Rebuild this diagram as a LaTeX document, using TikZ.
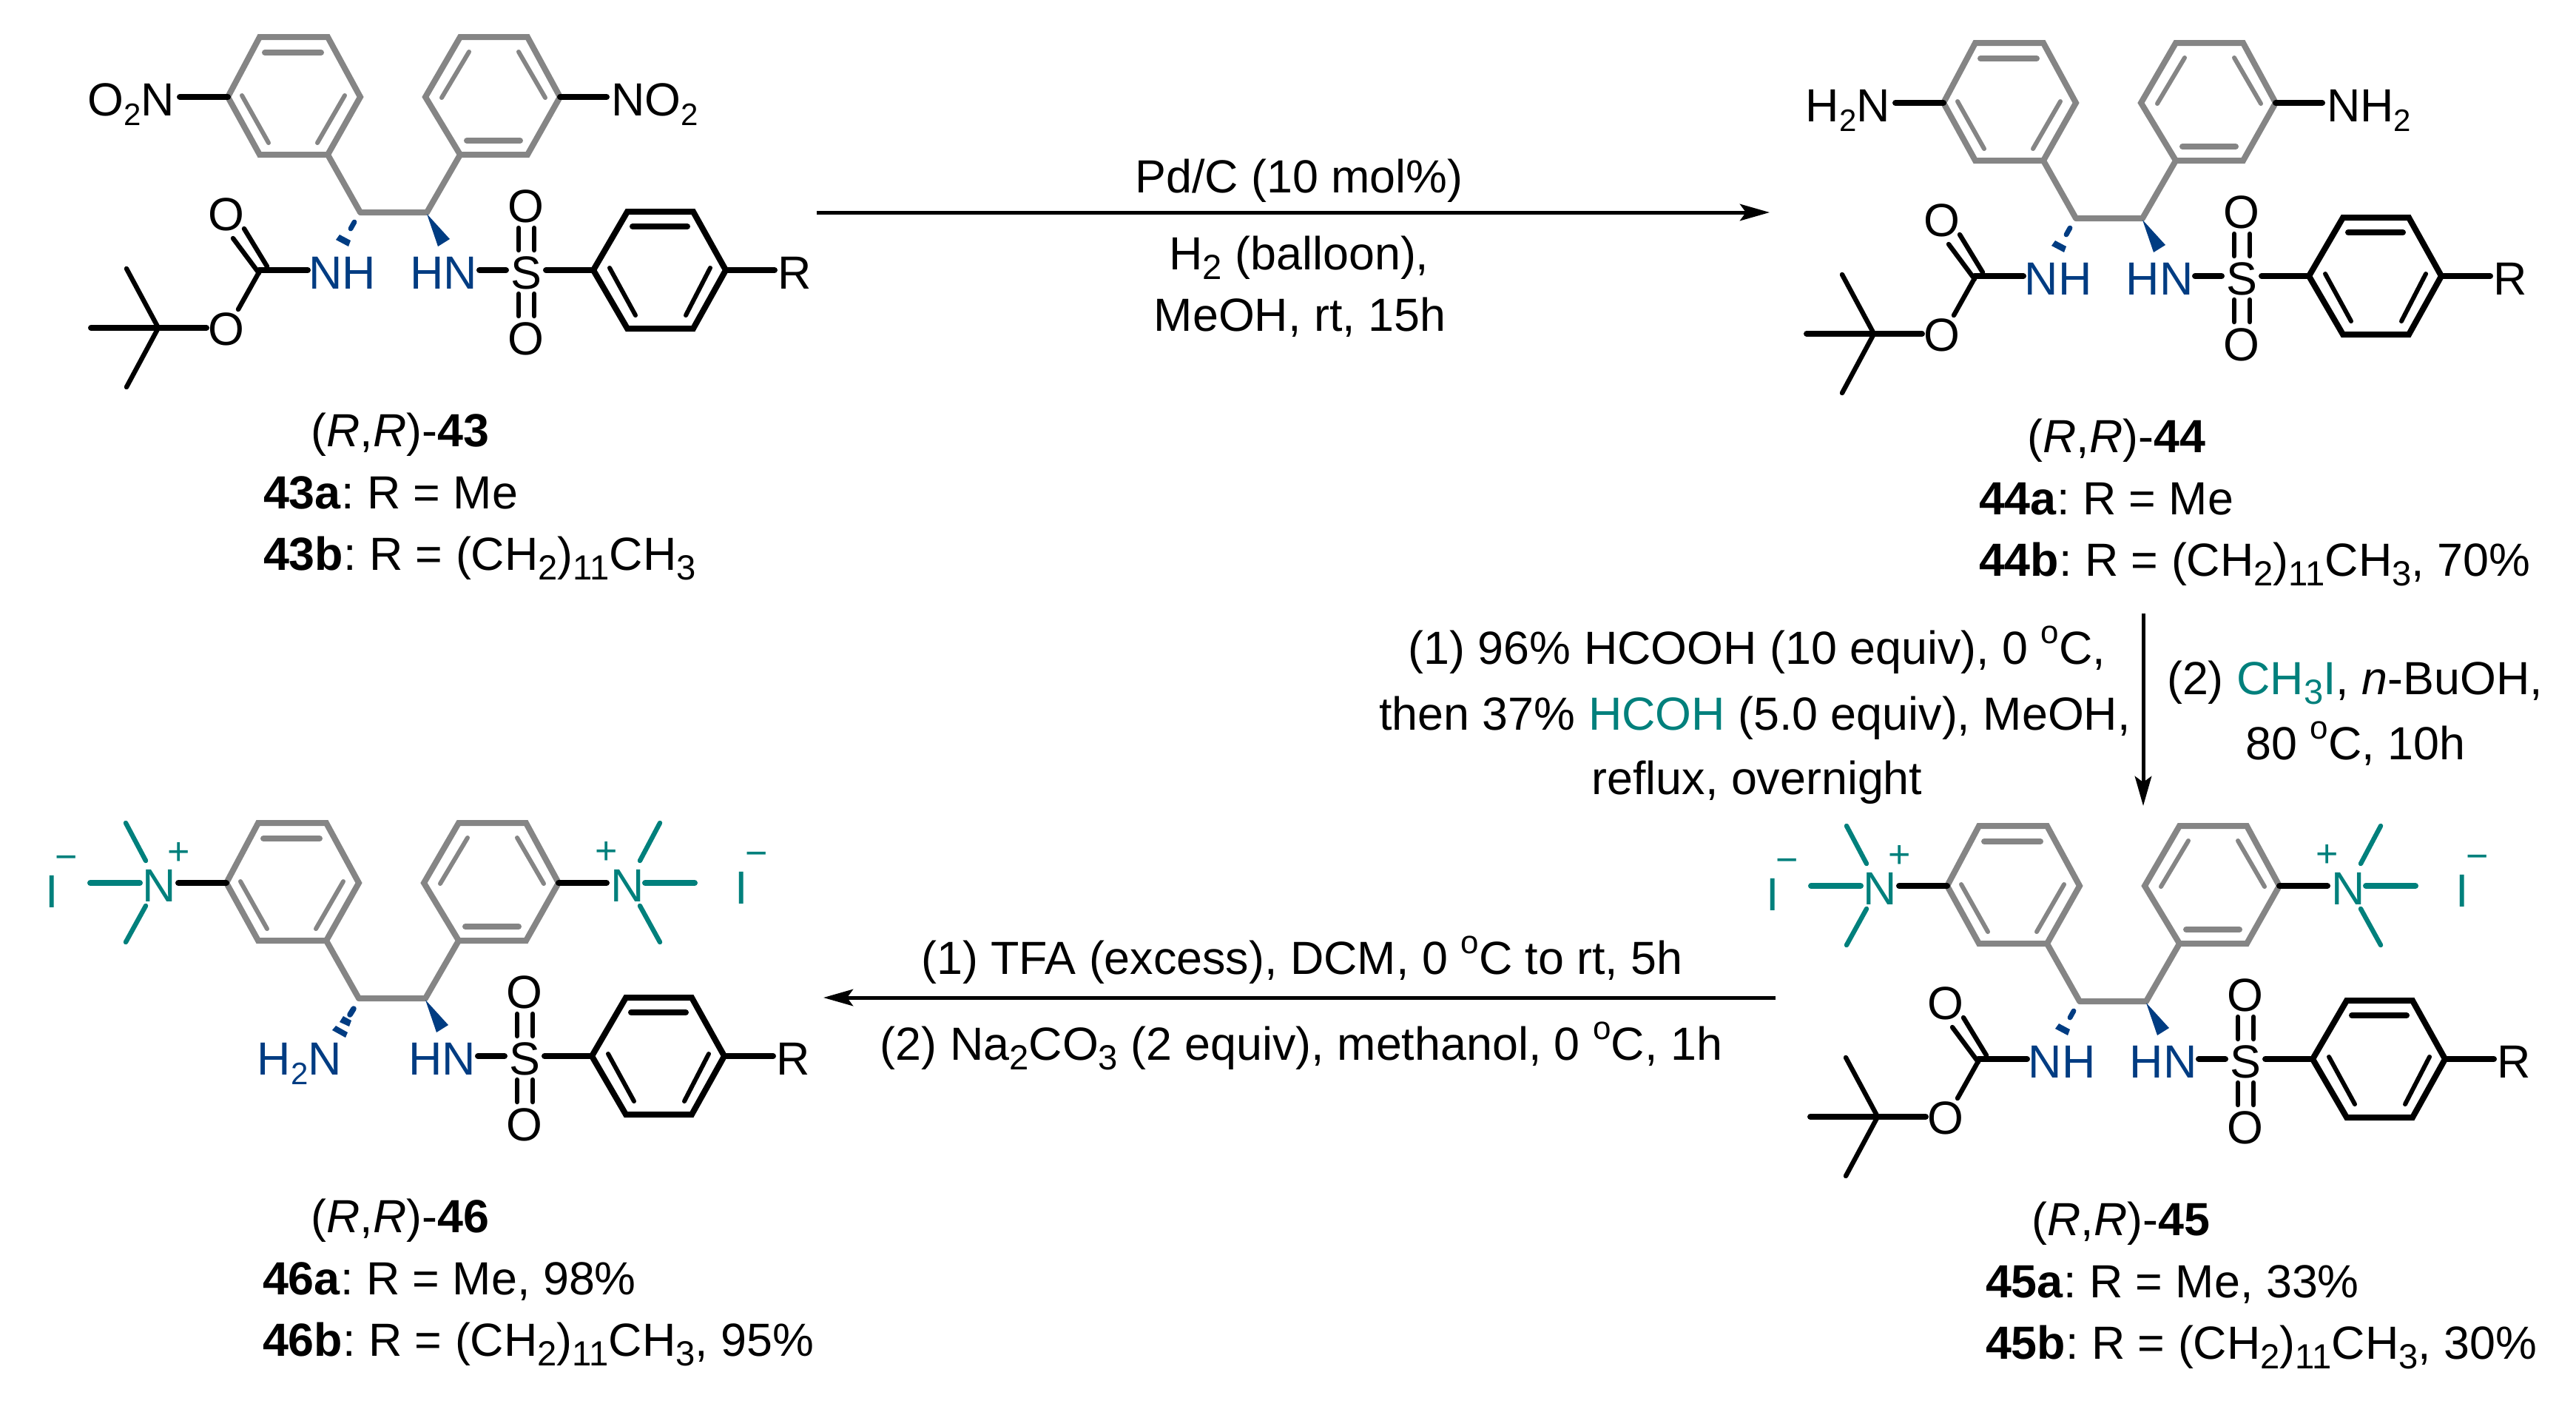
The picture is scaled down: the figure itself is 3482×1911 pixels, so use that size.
\documentclass[tikz,border=0pt]{standalone}
\usepackage{fontspec}
\setmainfont{Liberation Sans}
\usetikzlibrary{arrows.meta}
\definecolor{ringgray}{HTML}{858585}
\definecolor{chemblue}{HTML}{003C82}
\definecolor{chemteal}{HTML}{00807C}
\frenchspacing
\newcommand{\sbs}[1]{\raisebox{-3.25pt}{\fontsize{11.8pt}{13pt}\selectfont #1}}
\newcommand{\sbm}[1]{\raisebox{-3.25pt}{\fontsize{10.5pt}{13pt}\selectfont #1}}
\newcommand{\spo}{\raisebox{7pt}{\fontsize{11pt}{13pt}\selectfont o}}
\tikzset{
  lab/.style={inner sep=0pt,outer sep=0pt,anchor=base,font=\fontsize{15.7pt}{18pt}\selectfont},
  chg/.style={inner sep=0pt,outer sep=0pt,anchor=center,text=chemteal,font=\fontsize{13pt}{15pt}\selectfont},
  gbond/.style={draw=ringgray,line width=2pt,line join=miter},
  ginner/.style={draw=ringgray,line width=1.5pt,line cap=round},
  ginnerh/.style={draw=ringgray,line width=2pt,line cap=round},
  kbond/.style={draw=black,line width=2pt,line join=miter},
  kstub/.style={draw=black,line width=2pt,line cap=round},
  kinner/.style={draw=black,line width=1.5pt,line cap=round},
  kinnerh/.style={draw=black,line width=2pt,line cap=round},
  kthin/.style={draw=black,line width=1.6pt,line cap=round},
  tstub/.style={draw=chemteal,line width=2pt,line cap=round},
  tthin/.style={draw=chemteal,line width=1.6pt,line cap=round},
  rxn/.style={draw=black,line width=1.25pt,-{Stealth[length=10pt,width=5.6pt,inset=2pt]}},
}
% the two grey rings, the C-C link and the wedge
\newcommand{\corepart}[1]{%
  \draw[gbond] (308,131)--(351,50)--(443,50)--(487,131)--(443,209)--(351,209)--cycle;
  \draw[ginnerh] (358,71)--(434,71);
  \draw[ginner] (327,129)--(363,193);
  \draw[ginner] (466,129)--(429,193);
  \draw[gbond] (575,131)--(622,50)--(713,50)--(757,131)--(713,209)--(622,209)--cycle;
  \draw[ginner] (634,70)--(597,132);
  \draw[ginner] (701,70)--(737,132);
  \draw[ginnerh] (631,190)--(703,190);
  \draw[gbond,line join=round] (443,209)--(487,287)--(577,287)--(622,209);
  \fill[chemblue] (577,289)--(608,323)--(592,333)--cycle;
}
% sulfonamide and the black aryl ring with R
\newcommand{\sulfpart}[1]{%
  \node[lab,text=chemblue] (#1hn) at (600,390) {HN};
  \node[lab] (#1s) at (711,390) {S};
  \node[lab] (#1so1) at (711,300) {O};
  \node[lab] (#1so2) at (711,479) {O};
  \node[lab,anchor=base west] (#1r) at (1051,390) {R};
  \draw[kstub] (648,365)--(684,365);
  \draw[kstub] (738,365)--(802,365);
  \draw[kthin] (701,308)--(701,338) (722,308)--(722,338);
  \draw[kthin] (701,397)--(701,427) (722,397)--(722,427);
  \draw[kbond] (802,365)--(848,286)--(937,286)--(981,365)--(937,444)--(848,444)--cycle;
  \draw[kinnerh] (855,306)--(929,306);
  \draw[kinner] (824,362)--(859,426);
  \draw[kinner] (960,362)--(927,426);
  \draw[kstub] (981,365)--(1047,365);
}
% tert-butyl carbamate with hashed bond
\newcommand{\bocpart}[1]{%
  \node[lab,text=chemblue] (#1nh) at (463,390) {NH};
  \node[lab] (#1oc) at (306,311) {O};
  \node[lab] (#1oe) at (306,466) {O};
  \draw[kstub] (350,365)--(416,365);
  \draw[kthin] (315,322)--(350,369);
  \draw[kthin] (330,309)--(361,360);
  \draw[kthin] (350,368)--(322,418);
  \draw[kstub] (123,443)--(279,443);
  \draw[kthin] (171,363)--(214,443)--(171,523);
  \draw[chemblue,line width=1.7pt,line cap=round] (479,300)--(474,309);
  \fill[chemblue] (459,317)--(474,325)--(471,333)--(454,324)--cycle;
}
% quaternary ammonium groups and iodides
\newcommand{\ammonium}[1]{%
  \node[lab,text=chemteal] (#1nl) at (217,156) {N};
  \node[lab,text=chemteal] (#1nr) at (850,156) {N};
  \node[chg] (#1pl) at (244,91) {+};
  \node[chg] (#1pr) at (822,90) {+};
  \node[chg] (#1ml) at (92,104) {−};
  \node[chg] (#1mr) at (1025,99) {−};
  \node[lab,text=chemteal] (#1il) at (72,164) {I};
  \node[lab,text=chemteal] (#1ir) at (1004,159) {I};
  \draw[kstub] (243,131)--(308,131);
  \draw[kstub] (757,131)--(822,131);
  \draw[tstub] (124,131)--(191,131);
  \draw[tstub] (874,131)--(941,131);
  \draw[tthin] (172,50)--(199,101);
  \draw[tthin] (199,162)--(172,211);
  \draw[tthin] (894,50)--(867,101);
  \draw[tthin] (867,162)--(894,211);
}
\begin{document}
\begin{tikzpicture}[x=0.25pt,y=-0.25pt]
\useasboundingbox (0,0) rectangle (3482,1911);

% ---------- 43
\begin{scope}
  \corepart{a}\sulfpart{a}\bocpart{a}
  \node[lab,anchor=base east] (aL) at (236,156) {O\sbm{2}N};
  \node[lab,anchor=base west] (aR) at (826,156) {NO\sbm{2}};
  \draw[kstub] (243,131)--(308,131);
  \draw[kstub] (757,131)--(820,131);
\end{scope}

% ---------- 44
\begin{scope}[shift={(2319,8)}]
  \corepart{b}\sulfpart{b}\bocpart{b}
  \node[lab,anchor=base east] (bL) at (236,156) {H\sbm{2}N};
  \node[lab,anchor=base west] (bR) at (826,156) {NH\sbm{2}};
  \draw[kstub] (243,131)--(308,131);
  \draw[kstub] (757,131)--(820,131);
\end{scope}

% ---------- 45
\begin{scope}[shift={(2324,1066)}]
  \corepart{c}\sulfpart{c}\bocpart{c}\ammonium{c}
\end{scope}

% ---------- 46
\begin{scope}[shift={(-2,1062)}]
  \corepart{d}\sulfpart{d}\ammonium{d}
  \node[lab,anchor=base east,text=chemblue] (dnh) at (464,390) {H\sbm{2}N};
  \draw[chemblue,line width=1.9pt,line cap=round] (480,301)--(475,309);
  \fill[chemblue] (466,311)--(477,317)--(474,325)--(461,319)--cycle;
  \fill[chemblue] (456,324)--(472,333)--(469,340)--(451,330)--cycle;
\end{scope}

% ---------- captions
\node[lab] (t43) at (541,603) {(\textit{R},\textit{R})-\textbf{43}};
\node[lab,anchor=base west] (t43a) at (356,687) {\textbf{43a}: R = Me};
\node[lab,anchor=base west] (t43b) at (356,770) {\textbf{43b}: R = (CH\sbs{2})\sbs{11}CH\sbs{3}};

\node[lab] (t44) at (2861,611) {(\textit{R},\textit{R})-\textbf{44}};
\node[lab,anchor=base west] (t44a) at (2675,695) {\textbf{44a}: R = Me};
\node[lab,anchor=base west] (t44b) at (2675,778) {\textbf{44b}: R = (CH\sbs{2})\sbs{11}CH\sbs{3}, 70\%};

\node[lab] (t45) at (2867,1669) {(\textit{R},\textit{R})-\textbf{45}};
\node[lab,anchor=base west] (t45a) at (2684,1753) {\textbf{45a}: R = Me, 33\%};
\node[lab,anchor=base west] (t45b) at (2684,1836) {\textbf{45b}: R = (CH\sbs{2})\sbs{11}CH\sbs{3}, 30\%};

\node[lab] (t46) at (541,1665) {(\textit{R},\textit{R})-\textbf{46}};
\node[lab,anchor=base west] (t46a) at (355,1749) {\textbf{46a}: R = Me, 98\%};
\node[lab,anchor=base west] (t46b) at (355,1832) {\textbf{46b}: R = (CH\sbs{2})\sbs{11}CH\sbs{3}, 95\%};

% ---------- reactions
\coordinate (ar1s) at (1104,287);
\coordinate (ar1e) at (2392,287);
\draw[rxn] (ar1s) -- (ar1e);
\node[lab] (r1a) at (1756,260) {Pd/C (10 mol\%)};
\node[lab] (r1b) at (1756,364) {H\sbs{2} (balloon),};
\node[lab] (r1c) at (1757,447) {MeOH, rt, 15h};

\coordinate (ar2s) at (2897,829);
\coordinate (ar2e) at (2897,1089);
\draw[rxn] (ar2s) -- (ar2e);
\node[lab] (r2a) at (2375,897) {(1) 96\% HCOOH (10 equiv), 0 \spo C,};
\node[lab] (r2b) at (2372,986) {then 37\% \textcolor{chemteal}{HCOH} (5.0 equiv), MeOH,};
\node[lab] (r2c) at (2375,1073) {reflux, overnight};
\node[lab] (r2d) at (3183,938) {(2) \textcolor{chemteal}{CH\sbs{3}I}, \textit{n}-BuOH,};
\node[lab] (r2e) at (3184,1026) {80 \spo C, 10h};

\coordinate (ar3s) at (2400,1348);
\coordinate (ar3e) at (1113,1348);
\draw[rxn] (ar3s) -- (ar3e);
\node[lab] (r3a) at (1760,1316) {(1) TFA (excess), DCM, 0 \spo C to rt, 5h};
\node[lab] (r3b) at (1759,1432) {(2) Na\sbs{2}CO\sbs{3} (2 equiv), methanol, 0 \spo C, 1h};
\end{tikzpicture}
\end{document}
